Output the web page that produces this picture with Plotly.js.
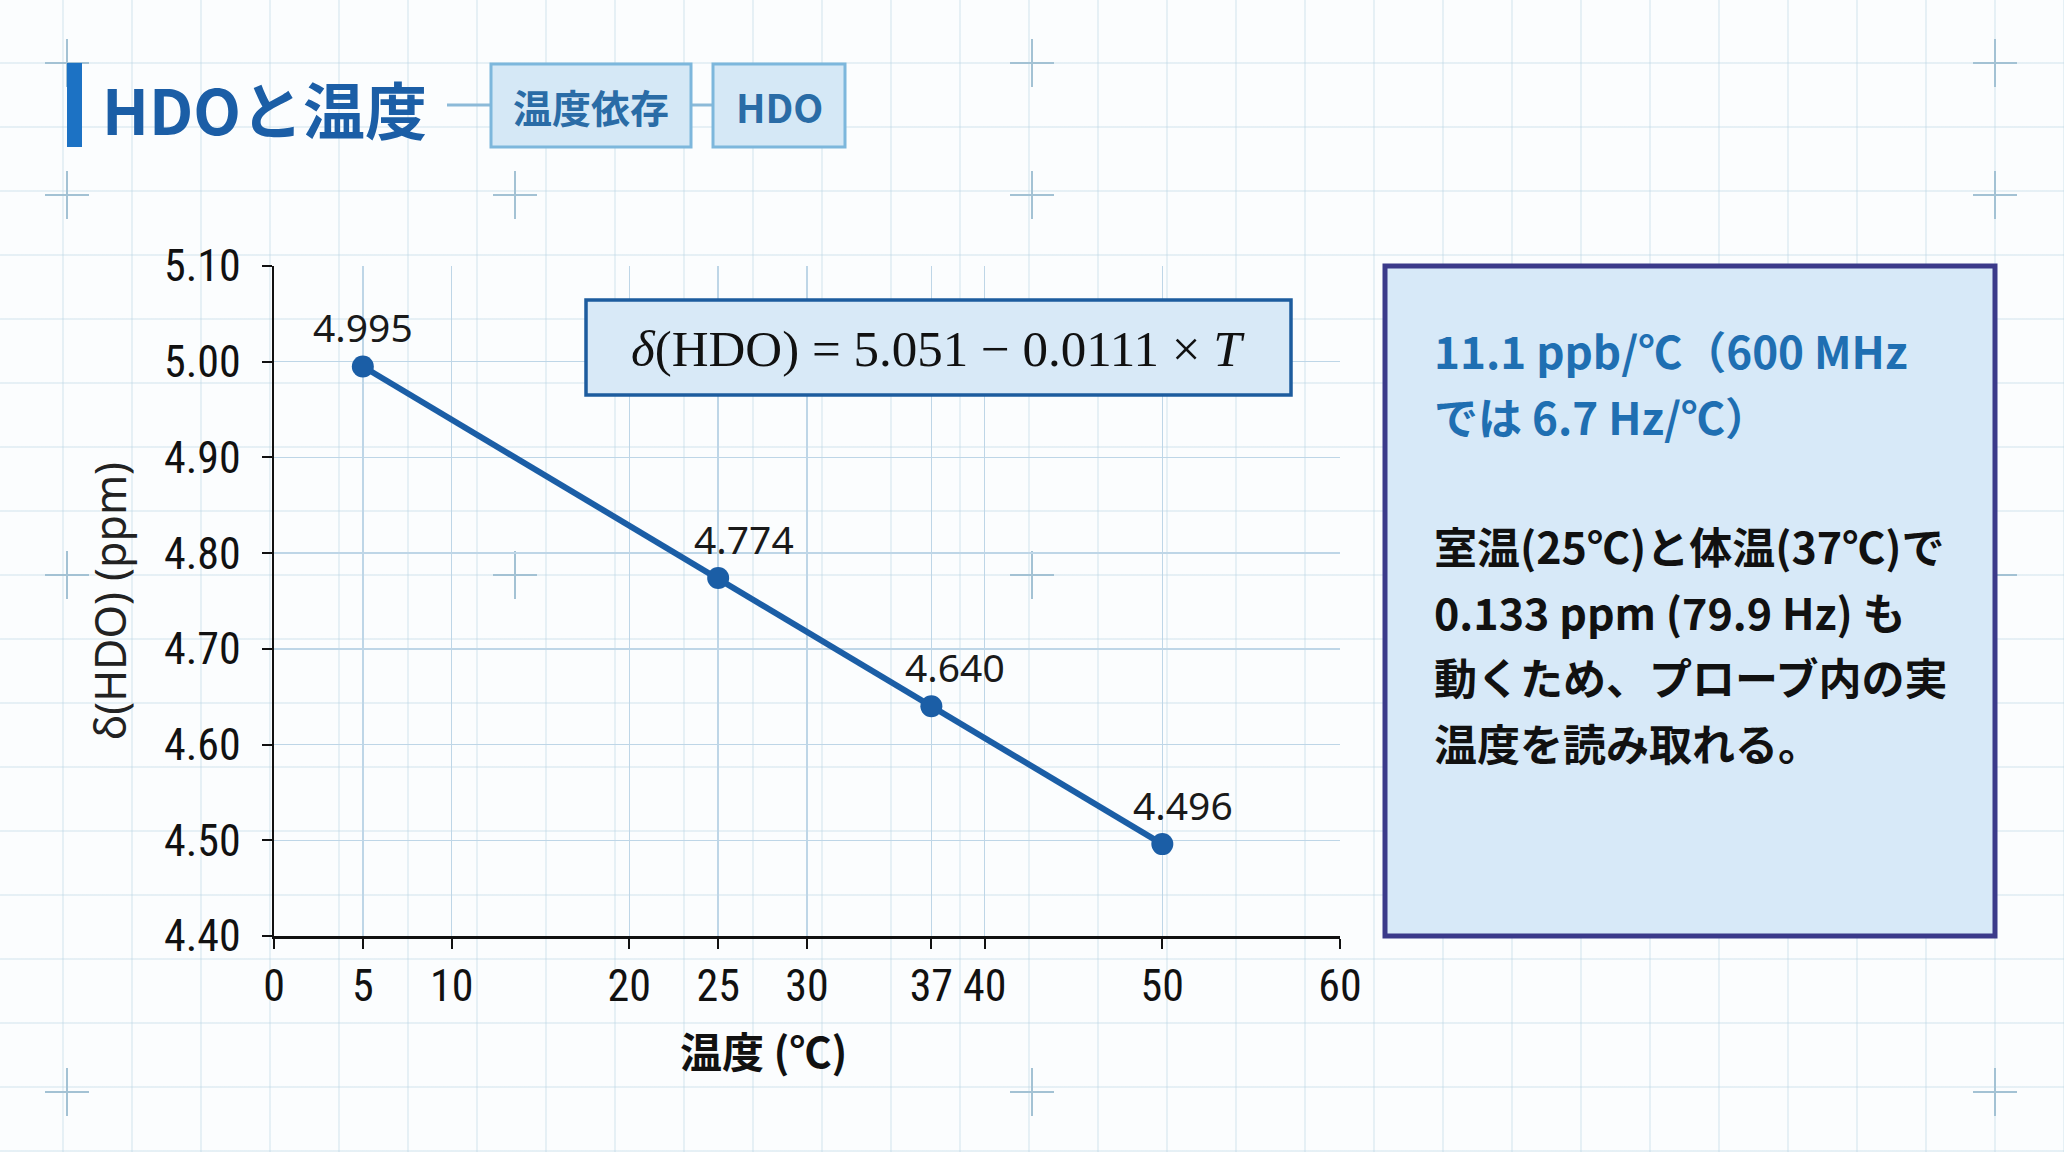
<!DOCTYPE html>
<html><head><meta charset="utf-8">
<script src="https://cdn.plot.ly/plotly-3.0.1.min.js"></script>
<style>
html,body{margin:0;padding:0;overflow:hidden;background:#fbfdfe;}
#chart{width:2064px;height:1152px;
background-color:#fbfdfe;
background-image:linear-gradient(to right, rgba(186,212,228,0.32) 2px, transparent 2px), linear-gradient(to bottom, rgba(186,212,228,0.32) 2px, transparent 2px);
background-size:69px 64px;
background-position:62px 62px;}
</style></head><body><div id="chart"></div>
<script>
// ---- data ----
const temperatures = [5, 25, 37, 50];
const hdoShift = [4.995, 4.774, 4.640, 4.496];
const pointLabels = ["4.995", "4.774", "4.640", "4.496"];
const xTickValues = [0, 5, 10, 20, 25, 30, 37, 40, 50, 60];
const xTickLabels = ["0", "5", "10", "20", "25", "30", "37", "40", "50", "60"];
const yTickValues = [4.40, 4.50, 4.60, 4.70, 4.80, 4.90, 5.00, 5.10];
const yTickLabels = ["4.40", "4.50", "4.60", "4.70", "4.80", "4.90", "5.00", "5.10"];

const titleText = "HDOと温度";
const tagTexts = ["温度依存", "HDO"];
const xTitleText = "温度 (℃)";
const yTitleText = "δ(HDO) (ppm)";
const equationText = "<i>δ</i>(HDO) = 5.051 − 0.0111 × <i>T</i>";
const panelHeading = ["11.1 ppb/℃（600 MHz", "では 6.7 Hz/℃）"];
const panelBody = ["室温(25℃)と体温(37℃)で", "0.133 ppm (79.9 Hz) も", "動くため、プローブ内の実", "温度を読み取れる。"];

// ---- layout helpers (pixel -> paper) ----
const L = 274, R = 1340, T = 266, B = 936;
const px = p => (p - L) / (R - L);
const py = p => (B - p) / (B - T);

const CJK = "Noto Sans CJK JP, Noto Sans, sans-serif";
const NARROW = "Liberation Sans Narrow, Roboto Condensed, Noto Sans, sans-serif";
const BLUE = "#1b5ea6";

const shapes = [];
const annotations = [];

// background crosses
const crosses = [[67,63],[67,195],[515,195],[1032,63],[1032,195],[1995,63],[1995,195],
                 [67,575],[515,575],[1032,575],[1995,575],[67,1092],[1032,1092],[1995,1092]];
crosses.forEach(([cx, cy]) => {
  shapes.push({type:"line", xref:"paper", yref:"paper", layer:"below",
    x0:px(cx-22), x1:px(cx+22), y0:py(cy), y1:py(cy), line:{color:"#a3c2d4", width:2}});
  shapes.push({type:"line", xref:"paper", yref:"paper", layer:"below",
    x0:px(cx), x1:px(cx), y0:py(cy-24), y1:py(cy+24), line:{color:"#a3c2d4", width:2}});
});

// title bar
shapes.push({type:"rect", xref:"paper", yref:"paper", x0:px(67), x1:px(82), y0:py(147), y1:py(63),
  fillcolor:"#1c72c4", line:{width:0}});
annotations.push({text:titleText, xref:"paper", yref:"paper", x:px(100), y:py(108),
  xanchor:"left", yanchor:"middle", showarrow:false,
  font:{family:CJK, size:62, color:BLUE, weight:700}});

// connector lines + tags
shapes.push({type:"line", xref:"paper", yref:"paper", x0:px(447), x1:px(491), y0:py(105), y1:py(105),
  line:{color:"#8cbad8", width:3}});
shapes.push({type:"line", xref:"paper", yref:"paper", x0:px(691), x1:px(713), y0:py(105), y1:py(105),
  line:{color:"#8cbad8", width:3}});
const tagBoxes = [[491, 691], [713, 845]];
tagBoxes.forEach(([a, b], i) => {
  shapes.push({type:"rect", xref:"paper", yref:"paper", x0:px(a), x1:px(b), y0:py(147), y1:py(64),
    fillcolor:"#d5e8f6", line:{color:"#7db7dc", width:3}});
  annotations.push({text:tagTexts[i], xref:"paper", yref:"paper", x:px((a+b)/2), y:py(106),
    xanchor:"center", yanchor:"middle", showarrow:false,
    font:{family:CJK, size:39, color:"#2a6ca6", weight:700}});
});

// equation box
shapes.push({type:"rect", xref:"paper", yref:"paper", layer:"above", x0:px(586), x1:px(1291), y0:py(395), y1:py(300),
  fillcolor:"#d8e9f7", line:{color:"#1d5c9e", width:3.5}});
annotations.push({text:equationText, xref:"paper", yref:"paper", x:px(938), y:py(349),
  xanchor:"center", yanchor:"middle", showarrow:false,
  font:{family:"Liberation Serif, DejaVu Serif, serif", size:51, color:"#111"}});

// x-axis title (placed as in the reference, slightly left of centre)
annotations.push({text:xTitleText, xref:"paper", yref:"paper", x:px(763), y:py(1049),
  xanchor:"center", yanchor:"middle", showarrow:false,
  font:{family:CJK, size:42, color:"#111", weight:700}});

// right panel
shapes.push({type:"rect", xref:"paper", yref:"paper", x0:px(1385), x1:px(1995), y0:py(936), y1:py(266),
  fillcolor:"#d7e9f8", line:{color:"#3b3a8a", width:5}});
const headingY = [350, 416];
panelHeading.forEach((t, i) => annotations.push({text:t, xref:"paper", yref:"paper",
  x:px(1432), y:py(headingY[i]), xanchor:"left", yanchor:"middle", showarrow:false,
  font:{family:CJK, size:44, color:"#1f6fb2", weight:700}}));
const bodyY = [545, 611, 676, 742];
panelBody.forEach((t, i) => annotations.push({text:t, xref:"paper", yref:"paper",
  x:px(1432), y:py(bodyY[i]), xanchor:"left", yanchor:"middle", showarrow:false,
  font:{family:CJK, size:43, color:"#111", weight:700}}));

// point value labels, anchored to the data through the axes
const labelShiftX = [0, 26, 24, 21];
temperatures.forEach((t, i) => annotations.push({text:pointLabels[i], xref:"x", yref:"y",
  x:t, y:hdoShift[i], xanchor:"center", yanchor:"middle", xshift:labelShiftX[i], yshift:40,
  showarrow:false, font:{family:"Noto Sans, Open Sans, sans-serif", size:39, color:"#1a1a1a"}}));

const trace = {
  type:"scatter", mode:"lines+markers",
  x:temperatures, y:hdoShift, cliponaxis:false,
  line:{color:BLUE, width:6},
  marker:{color:BLUE, size:22},
  hoverinfo:"skip"
};

const axisCommon = {
  showline:true, linecolor:"#111", linewidth:2.5,
  ticks:"outside", ticklen:10, tickwidth:2, tickcolor:"#111",
  showgrid:true, gridcolor:"#bed6e7", gridwidth:1.5, zeroline:false,
  tickfont:{family:NARROW, size:44, color:"#111"}
};

const layout = {
  width:2064, height:1152,
  margin:{l:L, r:2064-R, t:T, b:1152-B, pad:0},
  paper_bgcolor:"rgba(0,0,0,0)", plot_bgcolor:"rgba(0,0,0,0)",
  showlegend:false,
  xaxis:Object.assign({}, axisCommon, {
    range:[0, 60], tickmode:"array", tickvals:xTickValues, ticktext:xTickLabels,
    ticklabelstandoff:0
  }),
  yaxis:Object.assign({}, axisCommon, {
    range:[4.40, 5.10], tickmode:"array", tickvals:yTickValues, ticktext:yTickLabels,
    ticklabelstandoff:12,
    title:{text:yTitleText, standoff:24, font:{family:"Noto Sans, sans-serif", size:43, color:"#222"}}
  }),
  shapes:shapes, annotations:annotations
};

Plotly.newPlot("chart", [trace], layout, {staticPlot:true, displayModeBar:false});
</script></body></html>
